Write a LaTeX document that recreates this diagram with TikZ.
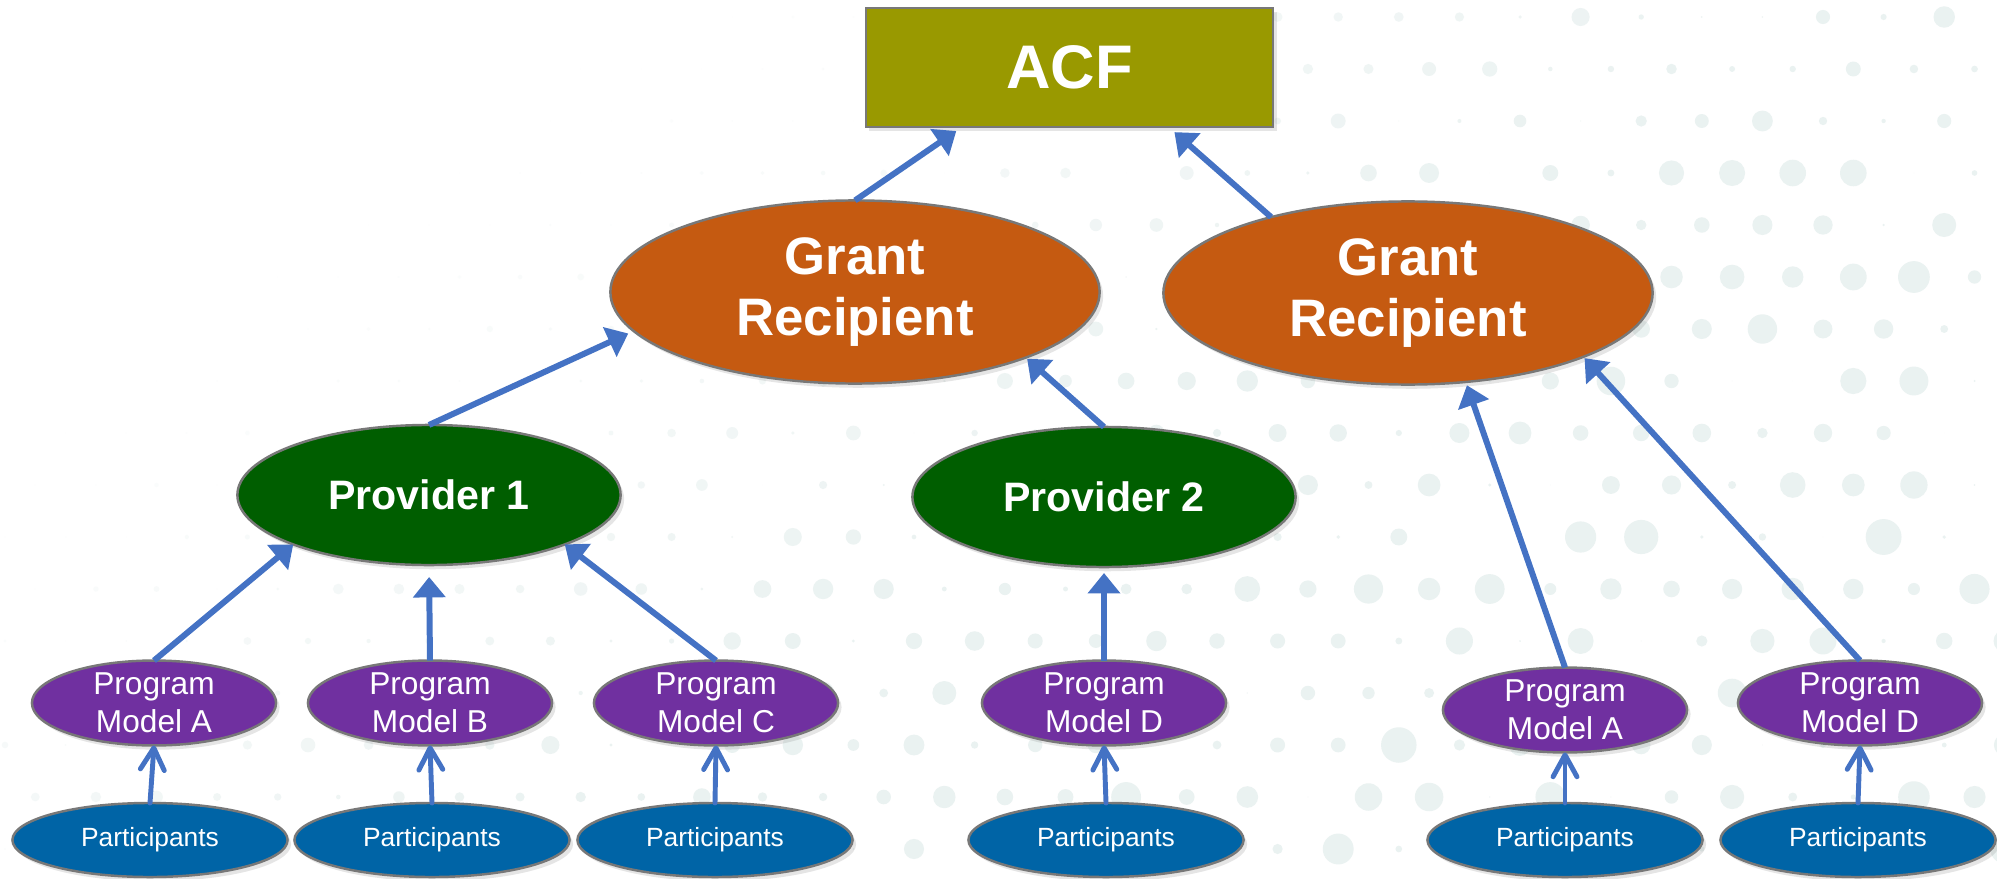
\documentclass[tikz,border=0pt]{standalone}
\usepackage{fontspec}
\setmainfont{Liberation Sans}
\usetikzlibrary{shapes.geometric,arrows.meta,shadows}

\definecolor{oliva}{RGB}{153,153,0}
\definecolor{naranja}{RGB}{197,90,17}
\definecolor{verde}{RGB}{0,94,0}
\definecolor{morado}{RGB}{112,48,160}
\definecolor{azulp}{RGB}{0,100,166}
\definecolor{azulf}{RGB}{68,114,196}
\definecolor{borde}{RGB}{120,120,120}
\definecolor{punto}{RGB}{234,242,241}

\tikzset{
  base/.style={draw=borde, line width=0.7pt, text=white, inner sep=0pt, outer sep=0pt, align=center,
    drop shadow={opacity=0.2, shadow xshift=1pt, shadow yshift=-1.2pt}},
  acfbox/.style={base, rectangle, fill=oliva, minimum width=4.07cm, minimum height=1.19cm,
    font=\bfseries\fontsize{17.5}{20}\selectfont},
  grant/.style={base, ellipse, fill=naranja, minimum width=4.89cm, minimum height=1.83cm,
    font=\bfseries\fontsize{15}{17.4}\selectfont},
  provider/.style={base, ellipse, fill=verde, minimum width=3.83cm, minimum height=1.40cm,
    font=\bfseries\fontsize{11.7}{14}\selectfont},
  modelo/.style={base, ellipse, fill=morado, minimum width=2.44cm, minimum height=0.76cm,
    font=\fontsize{9}{10.8}\selectfont},
  partic/.style={base, ellipse, fill=azulp, minimum width=2.75cm, minimum height=0.74cm,
    font=\fontsize{7.5}{9}\selectfont},
  flecha/.style={draw=azulf, line width=1.7pt, -{Triangle[length=5.8pt,width=9pt]}},
  flechab/.style={draw=azulf, line width=1.4pt, line cap=round, -{Straight Barb[length=6.2pt,width=6.8pt,round]}},
}

\begin{document}
\begin{tikzpicture}[x=0.01cm, y=-0.01cm]

    % Fondo
    \fill[white] (0, 0) rectangle (1997, 879);
    \useasboundingbox (0, 0) rectangle (1997, 879);
    \pgfmathsetseed{11}
    \foreach \row in {0,...,16}{
      \foreach \col in {0,...,33}{
        \pgfmathsetmacro{\dotx}{5+60.6*\col+30.3*mod(\row,2)}
        \pgfmathsetmacro{\doty}{17+52*\row}
        \pgfmathsetmacro{\dotw}{max(0,min(1,-0.35+1.1*\dotx/1997+0.7*\doty/879))}
        \pgfmathsetmacro{\dotr}{18*rnd*\dotw}
        \pgfmathsetmacro{\doto}{min(1,1.6*\dotw)}
        \fill[punto, fill opacity=\doto] (\dotx, \doty) circle[radius=\dotr];
      }
    }

    % Nodos
    \node[acfbox] (acf) at (1069.5, 67.5) {ACF};

    \node[grant] (gr1) at (855, 292) {Grant\\Recipient};
    \node[grant] (gr2) at (1408, 293) {Grant\\Recipient};

    \node[provider] (prov1) at (429, 495) {Provider 1};
    \node[provider] (prov2) at (1104, 497) {Provider 2};

    \node[modelo] (pma) at (154, 703) {Program\\Model A};
    \node[modelo] (pmb) at (430, 703) {Program\\Model B};
    \node[modelo] (pmc) at (716, 703) {Program\\Model C};
    \node[modelo] (pmd) at (1104, 703) {Program\\Model D};
    \node[modelo] (pma2) at (1565, 710) {Program\\Model A};
    \node[modelo] (pmd2) at (1860, 703) {Program\\Model D};

    \node[partic] (part1) at (150, 840) {Participants};
    \node[partic] (part2) at (432, 840) {Participants};
    \node[partic] (part3) at (715, 840) {Participants};
    \node[partic] (part4) at (1106, 840) {Participants};
    \node[partic] (part5) at (1565, 840) {Participants};
    \node[partic] (part6) at (1858, 840) {Participants};

    % Flechas
    \draw[flecha, shorten >=2pt] (gr1.north) -- (acf.209);
    \draw[flecha, shorten >=2.2pt] (gr2.151) -- (acf.329);

    \draw[flecha, shorten >=1.7pt] (prov1.north) -- (gr1.190);
    \draw[flecha, shorten >=0.5pt] (prov2.north) -- (gr1.339);
    \draw[flecha, shorten >=1pt] (pma2.north) -- (gr2.303);
    \draw[flecha, shorten >=0.5pt] (pmd2.north) -- (gr2.340);

    \draw[flecha] (pma.north) -- (prov1.200);
    \draw[flecha, shorten >=3.4pt] (pmb.north) -- (prov1.south);
    \draw[flecha] (pmc.north) -- (prov1.340);
    \draw[flecha, shorten >=1.7pt] (pmd.north) -- (prov2.south);

    \foreach \p/\m in {part1/pma, part2/pmb, part3/pmc, part4/pmd, part5/pma2, part6/pmd2}
      \draw[flechab] (\p.north) -- (\m.south);

\end{tikzpicture}
\end{document}
